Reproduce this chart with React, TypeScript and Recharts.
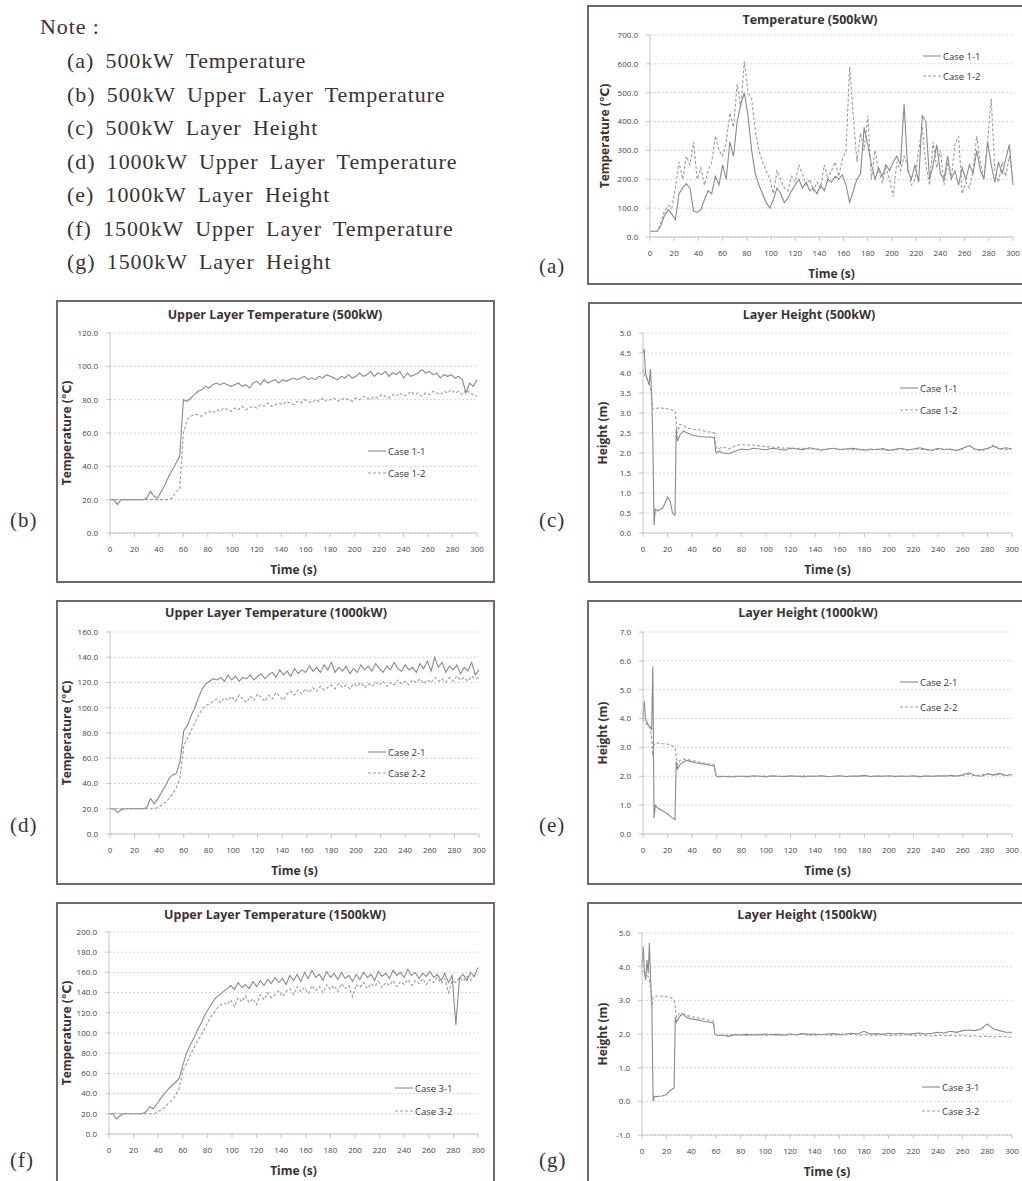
import { CartesianGrid, Legend, Line, LineChart, XAxis, YAxis } from "recharts";

// shared time grids (s)
const TIME_3 = [
  0, 3, 6, 9, 12, 15, 18, 21, 24, 27, 30, 33, 36, 39, 42, 45, 48, 51, 54, 57, 60, 63, 66, 69, 72, 75, 78, 81, 84, 87,
  90, 93, 96, 99, 102, 105, 108, 111, 114, 117, 120, 123, 126, 129, 132, 135, 138, 141, 144, 147, 150, 153, 156, 159,
  162, 165, 168, 171, 174, 177, 180, 183, 186, 189, 192, 195, 198, 201, 204, 207, 210, 213, 216, 219, 222, 225, 228,
  231, 234, 237, 240, 243, 246, 249, 252, 255, 258, 261, 264, 267, 270, 273, 276, 279, 282, 285, 288, 291, 294, 297, 300,
];
const LH_TIME = [
  0, 1, 2, 3, 4, 5, 6, 7, 8, 9, 10, 12, 14, 16, 18, 20, 22, 24, 26, 27, 28, 30, 33, 36, 40, 45, 50, 55, 58, 59, 60, 62,
  65, 70, 75, 80, 85, 90, 95, 100, 105, 110, 115, 120, 125, 130, 135, 140, 145, 150, 155, 160, 165, 170, 175, 180, 185,
  190, 195, 200, 205, 210, 215, 220, 225, 230, 235, 240, 245, 250, 255, 260, 265, 270, 275, 280, 285, 290, 295, 300,
];
const X_TICKS = [0, 20, 40, 60, 80, 100, 120, 140, 160, 180, 200, 220, 240, 260, 280, 300];

// (a) Temperature 500kW
const A_Y_TICKS = [0, 100, 200, 300, 400, 500, 600, 700];
const A_CASE1 = [
  20, 20, 20, 40, 75, 95, 80, 60, 150, 170,
  185, 170, 90, 85, 95, 130, 160, 150, 210, 180,
  250, 200, 330, 280, 400, 460, 500, 420, 300, 220,
  180, 150, 120, 100, 130, 170, 150, 120, 135, 160,
  180, 200, 170, 190, 160, 170, 150, 180, 160, 200,
  190, 210, 200, 215, 180, 120, 160, 200, 220, 380,
  320, 250, 200, 240, 210, 250, 230, 260, 280, 250,
  460, 230, 200, 250, 190, 420, 400, 200, 250, 320,
  220, 200, 280, 200, 230, 180, 240, 200, 250, 220,
  300, 230, 200, 330, 250, 190, 260, 220, 270, 320,
  180,
];
const A_CASE2 = [
  20, 20, 20, 50, 90, 110, 100, 170, 260, 200,
  280, 250, 330, 200, 240, 180, 230, 260, 350, 300,
  280, 330, 430, 380, 530, 450, 610, 500, 480, 370,
  300, 260, 230, 200, 150, 230, 200, 170, 160, 210,
  190, 250, 220, 180, 200, 160, 190, 170, 250, 200,
  230, 260, 210, 270, 300, 590, 420, 260, 360, 300,
  420, 200, 300, 230, 190, 240, 200, 140, 260, 230,
  280, 250, 180, 200, 300, 380, 250, 180, 330, 240,
  300, 180, 260, 200, 320, 350, 150, 190, 170, 230,
  350, 260, 200, 330, 480, 230, 190, 260, 210, 280,
  200,
];

// (b) Upper layer temperature 500kW
const B_Y_TICKS = [0, 20, 40, 60, 80, 100, 120];
const B_CASE1 = [
  20, 20, 17, 20, 20, 20, 20, 20, 20, 20,
  21, 25, 22, 21, 25, 29, 34, 38, 42, 46,
  80, 79, 81, 83, 85, 86, 88, 87, 89, 90,
  89, 90, 89, 88, 89, 90, 88, 89, 87, 90,
  91, 89, 92, 90, 91, 92, 90, 92, 91, 92,
  93, 92, 93, 94, 92, 93, 92, 94, 93, 95,
  94, 93, 92, 94, 93, 95, 93, 94, 96, 94,
  95, 97, 94, 96, 95, 97, 94, 96, 95, 97,
  93, 96, 94, 95, 96, 98, 96, 97, 95, 96,
  93, 95, 94, 95, 93, 94, 92, 84, 90, 88,
  92,
];
const B_CASE2 = [
  20, 20, 20, 20, 20, 20, 20, 20, 20, 20,
  20, 20, 20, 20, 20, 20, 20, 21, 25, 26,
  60, 68, 70, 71, 71, 70, 72, 73, 72, 74,
  73, 75, 74, 73, 75, 74, 76, 74, 75, 76,
  75, 77, 76, 78, 76, 77, 78, 77, 79, 78,
  77, 79, 78, 80, 79, 78, 80, 79, 81, 79,
  80, 81, 79, 80, 81, 80, 79, 81, 80, 82,
  81, 80, 82, 81, 83, 82, 81, 83, 82, 84,
  82, 83, 85, 83, 84, 82, 84, 83, 85, 84,
  83, 85, 84, 86, 84, 85, 83, 86, 84, 83,
  82,
];

// (c) Layer height 500kW
const C_Y_TICKS = [0, 0.5, 1, 1.5, 2, 2.5, 3, 3.5, 4, 4.5, 5];
const C_CASE1 = [
  4.5, 4.6, 4.0, 3.9, 3.8, 3.7, 4.1, 3.5, 2.3, 0.2,
  0.6, 0.55, 0.6, 0.62, 0.75, 0.9, 0.8, 0.5, 0.45, 2.6,
  2.3, 2.45, 2.55, 2.5, 2.45, 2.42, 2.4, 2.4, 2.38, 2.05,
  2.0, 2.05, 2.0, 1.98, 2.05, 2.1, 2.08, 2.12, 2.1, 2.08,
  2.12, 2.1, 2.07, 2.12, 2.1, 2.08, 2.13, 2.1, 2.07, 2.1,
  2.12, 2.08, 2.1, 2.12, 2.09, 2.07, 2.1, 2.08, 2.11, 2.07,
  2.09, 2.12, 2.08, 2.1, 2.13, 2.09, 2.07, 2.12, 2.08, 2.1,
  2.06, 2.12, 2.18, 2.1, 2.08, 2.12, 2.17, 2.1, 2.13, 2.1,
];
const C_CASE2 = [
  4.1, 4.0, 3.9, 3.85, 3.8, 3.75, 3.6, 3.4, 3.1, 3.1,
  3.12, 3.12, 3.13, 3.12, 3.12, 3.1, 3.1, 3.07, 3.05, 2.8,
  2.5, 2.72, 2.68, 2.62, 2.6, 2.58, 2.55, 2.52, 2.5, 2.2,
  2.1, 2.12, 2.15, 2.1, 2.18, 2.22, 2.2, 2.2, 2.18, 2.16,
  2.15, 2.14, 2.12, 2.13, 2.11, 2.12, 2.1, 2.11, 2.09, 2.1,
  2.11, 2.09, 2.1, 2.08, 2.1, 2.09, 2.07, 2.1, 2.08, 2.06,
  2.09, 2.1, 2.07, 2.09, 2.1, 2.08, 2.06, 2.09, 2.1, 2.08,
  2.07, 2.1, 2.2, 2.08, 2.06, 2.09, 2.2, 2.1, 2.08, 2.1,
];

// (d) Upper layer temperature 1000kW
const D_Y_TICKS = [0, 20, 40, 60, 80, 100, 120, 140, 160];
const D_CASE1 = [
  20, 20, 17, 19, 20, 20, 20, 20, 20, 20,
  21, 28, 24, 28, 33, 38, 44, 47, 48, 58,
  82, 86, 94, 100, 108, 115, 119, 121, 123, 122,
  124, 121, 126, 122, 125, 121, 124, 123, 126, 122,
  125, 127, 123, 126, 128, 124, 130, 126, 129, 125,
  131, 127, 130, 128, 133, 129, 132, 128, 134, 130,
  136, 128, 132, 129, 133, 127, 131, 128, 134, 130,
  133, 129, 135, 131, 128, 133, 130, 136, 131, 129,
  134, 130, 132, 128, 135, 131, 137, 129, 140, 132,
  136, 128, 133, 130, 134, 127, 132, 129, 136, 126,
  130,
];
const D_CASE2 = [
  20, 20, 20, 20, 20, 20, 20, 20, 20, 20,
  20, 20, 20, 21, 23, 25, 28, 32, 37, 45,
  70, 76, 82, 88, 94, 99, 102, 103, 105, 107,
  104, 108, 106, 109, 105, 110, 107, 104, 109, 106,
  111, 108, 105, 110, 107, 112, 109, 106, 111, 113,
  110, 114, 111, 115, 112, 116, 113, 117, 114, 116,
  118, 115, 119, 116, 118, 115, 119, 117, 120, 116,
  119, 117, 120, 118, 121, 117, 120, 118, 122, 119,
  121, 118, 122, 120, 123, 119, 122, 120, 124, 121,
  123, 120, 124, 121, 125, 122, 124, 121, 125, 123,
  124,
];

// (e) Layer height 1000kW
const E_Y_TICKS = [0, 1, 2, 3, 4, 5, 6, 7];
const E_CASE1 = [
  4.0, 4.6, 4.0, 3.9, 3.8, 3.75, 3.7, 3.6, 5.8, 0.55,
  1.0, 0.9, 0.85, 0.8, 0.75, 0.7, 0.62, 0.55, 0.5, 2.5,
  2.25, 2.4, 2.5, 2.55, 2.5, 2.45, 2.42, 2.38, 2.35, 2.05,
  2.0, 1.98, 2.0, 1.98, 2.0, 2.0, 1.98, 2.02, 2.0, 1.98,
  2.02, 2.0, 1.99, 2.02, 2.0, 1.98, 2.01, 2.0, 2.02, 1.99,
  2.0, 2.02, 1.99, 2.01, 2.0, 2.03, 1.99, 2.01, 2.0, 2.02,
  1.99, 2.01, 2.0, 2.02, 1.98, 2.01, 2.0, 2.02, 2.0, 2.03,
  2.01, 2.05, 2.12, 2.03, 2.0, 2.08, 2.05, 2.1, 2.03, 2.06,
];
const E_CASE2 = [
  4.0, 3.9, 3.85, 3.8, 3.75, 3.7, 3.65, 3.3, 2.7, 3.1,
  3.15, 3.15, 3.14, 3.13, 3.12, 3.12, 3.1, 3.05, 3.0, 2.7,
  2.4, 2.55, 2.6, 2.58, 2.55, 2.5, 2.45, 2.42, 2.4, 2.1,
  2.0, 2.0, 1.99, 2.0, 1.98, 2.0, 2.01, 1.99, 2.0, 2.01,
  1.99, 2.0, 2.01, 1.99, 2.0, 2.02, 1.99, 2.0, 2.01, 1.99,
  2.0, 2.01, 1.99, 2.0, 2.02, 2.0, 1.99, 2.01, 2.0, 1.99,
  2.01, 2.0, 1.99, 2.01, 2.0, 2.02, 1.99, 2.0, 2.03, 2.01,
  2.0, 2.04, 2.08, 2.02, 2.05, 2.1, 2.04, 2.07, 2.02, 2.05,
];

// (f) Upper layer temperature 1500kW
const F_Y_TICKS = [0, 20, 40, 60, 80, 100, 120, 140, 160, 180, 200];
const F_CASE1 = [
  20, 20, 15, 18, 20, 20, 20, 20, 20, 20,
  22, 27, 25, 30, 35, 40, 44, 48, 51, 55,
  68, 80, 88, 95, 103, 110, 118, 124, 130, 135,
  138, 141, 144, 147, 143, 150, 145, 148, 144, 151,
  146, 152, 147, 153, 149, 155, 150, 154, 148, 157,
  152, 158, 151, 160, 154, 162, 155, 158, 152, 161,
  155, 159, 153, 160, 154, 157, 151, 158, 153, 160,
  155, 158, 152, 161, 156, 159, 154, 162, 157, 160,
  155, 163, 157, 160, 154, 159, 156, 161, 155, 158,
  152, 159, 150, 157, 108, 155, 158, 152, 160, 156,
  165,
];
const F_CASE2 = [
  20, 20, 20, 20, 20, 20, 20, 20, 20, 20,
  20, 20, 20, 21, 24, 26, 30, 33, 38, 45,
  62, 70, 78, 85, 92, 98, 105, 112, 118, 123,
  127, 130, 128, 133, 126, 135, 131, 137, 130, 134,
  128, 138, 133, 140, 135, 138, 142, 136, 141, 144,
  138, 146, 141, 145, 139, 147, 142, 146, 140, 148,
  143, 147, 141, 149, 144, 147, 136, 148, 145, 150,
  144, 149, 146, 151, 145, 150, 147, 152, 146, 151,
  148, 153, 147, 152, 149, 154, 148, 153, 150, 155,
  149, 154, 140, 152, 150, 155, 151, 156, 152, 157,
  158,
];

// (g) Layer height 1500kW
const G_Y_TICKS = [-1, 0, 1, 2, 3, 4, 5];
const G_CASE1 = [
  4.0, 4.6, 3.8, 3.6, 4.2, 3.8, 4.7, 3.6, 2.8, 0.0,
  0.15, 0.14, 0.15, 0.16, 0.18, 0.2, 0.3, 0.35, 0.4, 2.5,
  2.35, 2.5, 2.6, 2.5, 2.45, 2.42, 2.38, 2.35, 2.32, 2.0,
  1.98, 1.95, 1.97, 1.93, 1.98, 1.97, 1.99, 1.97, 1.98, 2.0,
  1.98, 1.99, 1.97, 2.0, 1.98, 2.01, 1.99, 2.0, 1.98, 2.0,
  2.01, 1.99, 2.0, 2.02, 2.0, 2.08, 2.0, 2.01, 1.99, 2.02,
  2.0, 2.02, 1.99, 2.01, 2.03, 2.0, 2.02, 2.05, 2.03, 2.08,
  2.05, 2.1, 2.12, 2.1, 2.15, 2.3, 2.15, 2.1, 2.05, 2.05,
];
const G_CASE2 = [
  3.8, 3.9, 3.85, 3.8, 3.75, 3.7, 3.6, 3.3, 2.8, 3.1,
  3.12, 3.13, 3.13, 3.12, 3.12, 3.1, 3.1, 3.07, 3.0, 2.8,
  2.5, 2.6, 2.6, 2.55, 2.52, 2.48, 2.45, 2.4, 2.38, 2.05,
  1.98, 1.95, 1.97, 1.96, 1.98, 1.97, 1.96, 1.98, 1.97, 1.96,
  1.98, 1.97, 1.96, 1.98, 1.97, 1.99, 1.97, 1.96, 1.98, 1.97,
  1.96, 1.98, 1.97, 1.99, 1.96, 1.98, 1.97, 1.96, 1.98, 1.95,
  1.97, 1.96, 1.98, 1.95, 1.97, 1.96, 1.94, 1.97, 1.95, 1.96,
  1.94, 1.96, 1.93, 1.95, 1.92, 1.94, 1.91, 1.93, 1.92, 1.9,
];

const NOTES = [
  "(a) 500kW Temperature",
  "(b) 500kW Upper Layer Temperature",
  "(c) 500kW Layer Height",
  "(d) 1000kW Upper Layer Temperature",
  "(e) 1000kW Layer Height",
  "(f) 1500kW Upper Layer Temperature",
  "(g) 1500kW Layer Height",
];

const SANS = "'Open Sans', 'DejaVu Sans', sans-serif";
const SERIF = "'Liberation Serif', 'DejaVu Serif', serif";
const INK = "#3b3232";
const YW = 50;
const XH = 46;

type Series = { name: string; time: number[]; values: number[]; dashed?: boolean };

type PanelProps = {
  letter: string;
  letterPos: [number, number];
  title: string;
  titlePos: [number, number];
  box: { x: number; y: number; w: number; h: number };
  plot: { l: number; r: number; t: number; b: number };
  yLabel: string;
  yLabelX: number;
  yDomain: [number, number];
  yTicks: number[];
  legendPos: [number, number];
  legendGap: number;
  series: Series[];
};

const toRows = (time: number[], values: number[]) => time.map((t, i) => ({ t, v: values[i] }));

function Panel(p: PanelProps) {
  const margin = {
    top: p.plot.t - p.box.y,
    right: p.box.x + p.box.w - p.plot.r,
    left: p.plot.l - p.box.x - YW,
    bottom: p.box.y + p.box.h - p.plot.b - XH,
  };
  const tickStyle = { fontSize: 8, fill: "#4a4242", fontFamily: SANS };
  const axisTitle = { fontSize: 12, fontWeight: 700, fill: INK, fontFamily: SANS };

  const legend = () => (
    <div style={{ fontFamily: SANS, fontSize: 9.5, color: INK }}>
      {p.series.map((s) => (
        <div key={s.name} style={{ display: "flex", alignItems: "center", height: p.legendGap }}>
          <svg width={18} height={6}>
            <line
              x1={0}
              y1={3}
              x2={18}
              y2={3}
              stroke={s.dashed ? "#9c9c9c" : "#8a8a8a"}
              strokeWidth={1.1}
              strokeDasharray={s.dashed ? "3 2" : undefined}
            />
          </svg>
          <span style={{ marginLeft: 2 }}>{s.name}</span>
        </div>
      ))}
    </div>
  );

  return (
    <>
      <div style={{ position: "absolute", left: p.box.x, top: p.box.y }}>
        <LineChart width={p.box.w} height={p.box.h} margin={margin}>
          <CartesianGrid vertical={false} stroke="#d4d4d4" strokeDasharray="2 2" />
          <XAxis
            type="number"
            dataKey="t"
            domain={[0, 300]}
            ticks={X_TICKS}
            interval={0}
            height={XH}
            tickSize={4}
            tickMargin={9}
            tick={tickStyle}
            axisLine={{ stroke: "#c4c4c4" }}
            tickLine={{ stroke: "#c4c4c4" }}
            label={{ value: "Time (s)", position: "insideBottom", offset: 5, style: axisTitle }}
          />
          <YAxis
            type="number"
            domain={p.yDomain}
            ticks={p.yTicks}
            interval={0}
            width={YW}
            tickSize={4}
            tickMargin={8}
            tick={tickStyle}
            tickFormatter={(v: number) => v.toFixed(1)}
            axisLine={{ stroke: "#c4c4c4" }}
            tickLine={{ stroke: "#c4c4c4" }}
            label={{
              value: p.yLabel,
              angle: -90,
              position: "insideLeft",
              offset: p.yLabelX - (p.plot.l - YW),
              style: { ...axisTitle, textAnchor: "middle" },
            }}
          />
          <Legend
            layout="vertical"
            align="center"
            verticalAlign="middle"
            content={legend}
            wrapperStyle={{
              left: p.legendPos[0] - p.box.x,
              top: p.legendPos[1] - p.box.y - p.legendGap / 2,
              width: "auto",
            }}
          />
          {p.series.map((s) => (
            <Line
              key={s.name}
              data={toRows(s.time, s.values)}
              dataKey="v"
              name={s.name}
              type="linear"
              dot={false}
              stroke={s.dashed ? "#9c9c9c" : "#8a8a8a"}
              strokeDasharray={s.dashed ? "3 2" : undefined}
              strokeWidth={1.1}
              isAnimationActive={false}
            />
          ))}
        </LineChart>
      </div>
      <div
        style={{
          position: "absolute",
          left: p.titlePos[0] - 150,
          top: p.titlePos[1] - 10,
          width: 300,
          lineHeight: "20px",
          textAlign: "center",
          fontFamily: SANS,
          fontWeight: 700,
          fontSize: 12.5,
          color: INK,
        }}
      >
        {p.title}
      </div>
      <div
        style={{
          position: "absolute",
          left: p.box.x,
          top: p.box.y,
          width: p.box.w,
          height: p.box.h,
          border: "2px solid #7b6666",
          boxSizing: "border-box",
          pointerEvents: "none",
        }}
      />
      <div
        style={{
          position: "absolute",
          left: p.letterPos[0],
          top: p.letterPos[1] - 13,
          lineHeight: "26px",
          fontFamily: SERIF,
          fontSize: 21,
          letterSpacing: 1,
          color: INK,
        }}
      >
        {p.letter}
      </div>
    </>
  );
}

export default function App() {
  return (
    <div
      style={{
        position: "absolute",
        left: 0,
        top: 0,
        width: 1022,
        height: 1181,
        overflow: "hidden",
        background: "#fff",
      }}
    >
      <div
        style={{
          position: "absolute",
          left: 40,
          top: 14,
          lineHeight: "26px",
          fontFamily: SERIF,
          fontSize: 22,
          letterSpacing: 0.9,
          color: INK,
        }}
      >
        Note :
      </div>
      {NOTES.map((n, i) => (
        <div
          key={n}
          style={{
            position: "absolute",
            left: 67,
            top: 48 + i * 33.5,
            lineHeight: "26px",
            fontFamily: SERIF,
            fontSize: 22,
            letterSpacing: 0.9,
            wordSpacing: 5,
            color: INK,
            whiteSpace: "nowrap",
          }}
        >
          {n}
        </div>
      ))}

      <Panel
        letter="(a)"
        letterPos={[539, 266]}
        title="Temperature (500kW)"
        titlePos={[810, 20]}
        box={{ x: 587, y: 5, w: 445, h: 280 }}
        plot={{ l: 650, r: 1013, t: 35, b: 237 }}
        yLabel="Temperature (℃)"
        yLabelX={605}
        yDomain={[0, 700]}
        yTicks={A_Y_TICKS}
        legendPos={[923, 56]}
        legendGap={20}
        series={[
          { name: "Case 1-1", time: TIME_3, values: A_CASE1 },
          { name: "Case 1-2", time: TIME_3, values: A_CASE2, dashed: true },
        ]}
      />
      <Panel
        letter="(b)"
        letterPos={[10, 520]}
        title="Upper Layer Temperature  (500kW)"
        titlePos={[275, 315]}
        box={{ x: 56, y: 300, w: 439, h: 283 }}
        plot={{ l: 110, r: 477, t: 333, b: 533 }}
        yLabel="Temperature (℃)"
        yLabelX={67}
        yDomain={[0, 120]}
        yTicks={B_Y_TICKS}
        legendPos={[368, 451]}
        legendGap={22}
        series={[
          { name: "Case 1-1", time: TIME_3, values: B_CASE1 },
          { name: "Case 1-2", time: TIME_3, values: B_CASE2, dashed: true },
        ]}
      />
      <Panel
        letter="(c)"
        letterPos={[539, 520]}
        title="Layer Height  (500kW)"
        titlePos={[809, 315]}
        box={{ x: 588, y: 302, w: 445, h: 281 }}
        plot={{ l: 643, r: 1012, t: 333, b: 533 }}
        yLabel="Height (m)"
        yLabelX={603}
        yDomain={[0, 5]}
        yTicks={C_Y_TICKS}
        legendPos={[900, 388]}
        legendGap={22}
        series={[
          { name: "Case 1-1", time: LH_TIME, values: C_CASE1 },
          { name: "Case 1-2", time: LH_TIME, values: C_CASE2, dashed: true },
        ]}
      />
      <Panel
        letter="(d)"
        letterPos={[10, 825]}
        title="Upper Layer Temperature  (1000kW)"
        titlePos={[276, 613]}
        box={{ x: 56, y: 600, w: 439, h: 285 }}
        plot={{ l: 110, r: 479, t: 632, b: 834 }}
        yLabel="Temperature (℃)"
        yLabelX={67}
        yDomain={[0, 160]}
        yTicks={D_Y_TICKS}
        legendPos={[368, 752]}
        legendGap={21}
        series={[
          { name: "Case 2-1", time: TIME_3, values: D_CASE1 },
          { name: "Case 2-2", time: TIME_3, values: D_CASE2, dashed: true },
        ]}
      />
      <Panel
        letter="(e)"
        letterPos={[539, 825]}
        title="Layer Height  (1000kW)"
        titlePos={[808, 613]}
        box={{ x: 587, y: 600, w: 445, h: 285 }}
        plot={{ l: 643, r: 1012, t: 632, b: 834 }}
        yLabel="Height (m)"
        yLabelX={603}
        yDomain={[0, 7]}
        yTicks={E_Y_TICKS}
        legendPos={[900, 682]}
        legendGap={25}
        series={[
          { name: "Case 2-1", time: LH_TIME, values: E_CASE1 },
          { name: "Case 2-2", time: LH_TIME, values: E_CASE2, dashed: true },
        ]}
      />
      <Panel
        letter="(f)"
        letterPos={[10, 1160]}
        title="Upper Layer Temperature (1500kW)"
        titlePos={[275, 915]}
        box={{ x: 56, y: 902, w: 439, h: 290 }}
        plot={{ l: 109, r: 478, t: 932, b: 1134 }}
        yLabel="Temperature (℃)"
        yLabelX={67}
        yDomain={[0, 200]}
        yTicks={F_Y_TICKS}
        legendPos={[395, 1088]}
        legendGap={23}
        series={[
          { name: "Case 3-1", time: TIME_3, values: F_CASE1 },
          { name: "Case 3-2", time: TIME_3, values: F_CASE2, dashed: true },
        ]}
      />
      <Panel
        letter="(g)"
        letterPos={[539, 1160]}
        title="Layer Height (1500kW)"
        titlePos={[807, 915]}
        box={{ x: 587, y: 902, w: 445, h: 290 }}
        plot={{ l: 642, r: 1012, t: 933, b: 1135 }}
        yLabel="Height (m)"
        yLabelX={603}
        yDomain={[-1, 5]}
        yTicks={G_Y_TICKS}
        legendPos={[922, 1087]}
        legendGap={24}
        series={[
          { name: "Case 3-1", time: LH_TIME, values: G_CASE1 },
          { name: "Case 3-2", time: LH_TIME, values: G_CASE2, dashed: true },
        ]}
      />
    </div>
  );
}
